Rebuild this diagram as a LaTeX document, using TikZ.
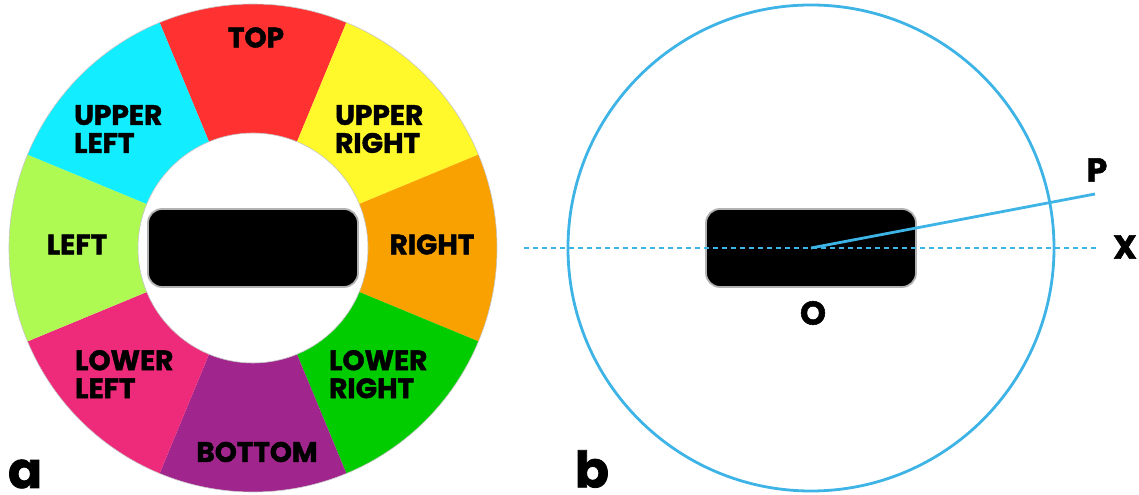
\documentclass[tikz,border=0pt]{standalone}
\usepackage{fontspec}
\setmainfont{Poppins}[BoldFeatures={FakeBold=1.6}]
\definecolor{cTop}{HTML}{FF3131}
\definecolor{cUR}{HTML}{FFF82A}
\definecolor{cR}{HTML}{F9A100}
\definecolor{cLR}{HTML}{00CC00}
\definecolor{cB}{HTML}{A0258C}
\definecolor{cLL}{HTML}{EE2A7B}
\definecolor{cL}{HTML}{AFFA52}
\definecolor{cUL}{HTML}{12EEFF}
\definecolor{sky}{HTML}{3DB3E6}
\tikzset{
  lbl/.style={font=\fontsize{28bp}{28bp}\selectfont\bfseries, inner sep=0pt, text=black},
  lbltwo/.style={lbl, align=left, anchor=north west},
  screen/.style={fill=black, draw=gray!60, line width=1.8bp, rounded corners=14bp,
    minimum width=210bp, minimum height=78bp, inner sep=0pt},
  bline/.style={draw=sky, line width=2.8bp},
  dotline/.style={draw=sky, line width=2.6bp, dash pattern=on 5bp off 4bp},
  edge/.style={draw=gray!45, line width=0.6bp},
  panel/.style={font=\fontsize{50bp}{50bp}\selectfont\bfseries, inner sep=0pt},
  axlbl/.style={font=\fontsize{33bp}{33bp}\selectfont\bfseries, inner sep=0pt},
}
\begin{document}
\begin{tikzpicture}[x=1bp,y=1bp]
\useasboundingbox (0,0) rectangle (1139,495);
% ---------- panel a ----------
\coordinate (ca) at (253,247);
\begin{scope}[shift={(ca)}]
  \foreach \a/\c in {90/cTop,45/cUR,0/cR,-45/cLR,-90/cB,-135/cLL,180/cL,135/cUL}{
    \fill[\c] (\a-22.5:244bp) arc[start angle=\a-22.5, end angle=\a+22.5, radius=244bp]
      -- (\a+22.5:115bp) arc[start angle=\a+22.5, end angle=\a-22.5, radius=115bp] -- cycle;
  }
  \draw[edge] (0,0) circle[radius=244bp];
  \draw[edge] (0,0) circle[radius=115bp];
\end{scope}
\node[screen] (scra) at (ca) {};
\node[lbl] (top) at (256,457.5) {TOP};
\node[lbltwo] (ul) at (74,390) {UPPER\\LEFT};
\node[lbltwo] (ur) at (335,390) {UPPER\\RIGHT};
\node[lbl] (left) at (77,250.5) {LEFT};
\node[lbl] (right) at (432,250.5) {RIGHT};
\node[lbltwo] (ll) at (75,145) {LOWER\\LEFT};
\node[lbltwo] (lr) at (329,145) {LOWER\\RIGHT};
\node[lbl] (bottom) at (257,43) {BOTTOM};
\node[panel] (pa) at (25,21) {a};
% ---------- panel b ----------
\coordinate (ob) at (811,247);
\draw[bline] (ob) circle[radius=243bp];
\node[screen] (scrb) at (ob) {};
\coordinate (xl) at (524,247);
\coordinate (xr) at (1097,247);
\draw[dotline] (xl) -- (xr);
\coordinate (pend) at (1095,301);
\draw[bline] (ob) -- (pend);
\node[axlbl] (plab) at (1097,325) {P};
\node[axlbl] (xlab) at (1125,248) {X};
\node[axlbl] (olab) at (813,182) {O};
\node[panel] (pb) at (592,26) {b};
\end{tikzpicture}
\end{document}
